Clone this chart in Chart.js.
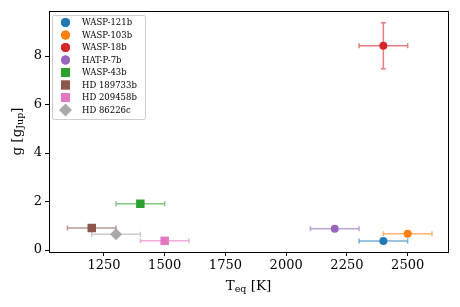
<!DOCTYPE html>
<html>
<head>
<meta charset="utf-8">
<script src="https://cdn.jsdelivr.net/npm/chart.js@4/dist/chart.umd.min.js"></script>
<style>
    html, body { margin: 0; padding: 0; background: #fff; }
    #wrap { width: 460px; height: 307px; }
</style>
</head>
<body>
<div id="wrap"><canvas id="chart" width="460" height="307"></canvas></div>
<script>
const planets = ['WASP-121b', 'WASP-103b', 'WASP-18b', 'HAT-P-7b', 'WASP-43b', 'HD 189733b', 'HD 209458b', 'HD 86226c'];
const teq = [2400, 2500, 2400, 2200, 1400, 1200, 1500, 1300];
const teqErr = [100, 100, 100, 100, 100, 100, 100, 100];
const grav = [0.37, 0.67, 8.43, 0.88, 1.91, 0.91, 0.38, 0.65];
const gravErr = [0, 0, 0.95, 0, 0, 0, 0, 0];
const colors = ['#1f77b4', '#ff7f0e', '#d62728', '#9467bd', '#2ca02c', '#8c564b', '#e377c2', '#a9a9a9'];
const markers = ['circle', 'circle', 'circle', 'circle', 'rect', 'rect', 'rect', 'rectRot'];
const xTicks = [1250, 1500, 1750, 2000, 2250, 2500];
const yTicks = [0, 2, 4, 6, 8];

const serif = '"DejaVu Serif", serif';

function markerRadius(style) {
    if (style === 'circle') return 4;
    return 6;
}

function withAlpha(hex, a) {
    const n = parseInt(hex.slice(1), 16);
    return `rgba(${(n >> 16) & 255}, ${(n >> 8) & 255}, ${n & 255}, ${a})`;
}

const datasets = planets.map((name, i) => ({
    label: name,
    data: [{ x: teq[i], y: grav[i] }],
    backgroundColor: colors[i],
    borderColor: colors[i],
    borderWidth: 0,
    pointStyle: markers[i],
    pointRadius: markerRadius(markers[i]),
    pointHoverRadius: markerRadius(markers[i])
}));

// error bars, drawn under the markers
const errorBars = {
    id: 'errorBars',
    beforeDatasetsDraw(chart) {
        const ctx = chart.ctx;
        const xs = chart.scales.x, ys = chart.scales.y;
        ctx.save();
        ctx.lineWidth = 1.5;
        planets.forEach((_, i) => {
            ctx.strokeStyle = withAlpha(colors[i], 0.6);
            const px = xs.getPixelForValue(teq[i]);
            const py = ys.getPixelForValue(grav[i]);
            const cap = 2.5;
            if (teqErr[i]) {
                const x0 = xs.getPixelForValue(teq[i] - teqErr[i]);
                const x1 = xs.getPixelForValue(teq[i] + teqErr[i]);
                ctx.beginPath();
                ctx.moveTo(x0, py); ctx.lineTo(x1, py);
                ctx.moveTo(x0, py - cap); ctx.lineTo(x0, py + cap);
                ctx.moveTo(x1, py - cap); ctx.lineTo(x1, py + cap);
                ctx.stroke();
            }
            if (gravErr[i]) {
                const y0 = ys.getPixelForValue(grav[i] - gravErr[i]);
                const y1 = ys.getPixelForValue(grav[i] + gravErr[i]);
                ctx.beginPath();
                ctx.moveTo(px, y0); ctx.lineTo(px, y1);
                ctx.moveTo(px - cap, y0); ctx.lineTo(px + cap, y0);
                ctx.moveTo(px - cap, y1); ctx.lineTo(px + cap, y1);
                ctx.stroke();
            }
        });
        ctx.restore();
    }
};

// frame, axis titles with subscripts, legend box
const decorations = {
    id: 'decorations',
    afterDraw(chart) {
        const ctx = chart.ctx;
        const a = chart.chartArea;
        ctx.save();
        ctx.strokeStyle = '#000';
        ctx.lineWidth = 1;
        ctx.strokeRect(Math.round(a.left) + 0.5, Math.round(a.top) + 0.5, Math.round(a.right - a.left), Math.round(a.bottom - a.top));

        ctx.fillStyle = '#000';
        ctx.textBaseline = 'alphabetic';

        // x title: T_eq [K]
        const big = `13.5px ${serif}`, small = `9.5px ${serif}`;
        ctx.font = big;
        const wT = ctx.measureText('T').width;
        const wK = ctx.measureText(' [K]').width;
        ctx.font = small;
        const wEq = ctx.measureText('eq').width;
        let x = (a.left + a.right) / 2 - (wT + wEq + wK) / 2;
        const base = 290;
        ctx.font = big; ctx.fillText('T', x, base); x += wT;
        ctx.font = small; ctx.fillText('eq', x, base + 2); x += wEq;
        ctx.font = big; ctx.fillText(' [K]', x, base);

        // y title: g [g_Jup]
        ctx.save();
        ctx.translate(21, (a.top + a.bottom) / 2);
        ctx.rotate(-Math.PI / 2);
        ctx.font = big;
        const w1 = ctx.measureText('g [g').width;
        const w3 = ctx.measureText(']').width;
        ctx.font = small;
        const w2 = ctx.measureText('Jup').width;
        let y = -(w1 + w2 + w3) / 2;
        ctx.font = big; ctx.fillText('g [g', y, 0); y += w1;
        ctx.font = small; ctx.fillText('Jup', y, 2); y += w2;
        ctx.font = big; ctx.fillText(']', y, 0);
        ctx.restore();

        // legend
        const lx = 52, ly = 15, lw = 93, lh = 104, rowH = 12.5;
        ctx.fillStyle = 'rgba(255,255,255,0.8)';
        ctx.strokeStyle = '#cccccc';
        ctx.lineWidth = 1;
        ctx.beginPath();
        ctx.roundRect(lx + 0.5, ly + 0.5, lw, lh, 2);
        ctx.fill();
        ctx.stroke();
        ctx.font = `8.5px ${serif}`;
        ctx.textBaseline = 'middle';
        planets.forEach((name, i) => {
            const cy = ly + 7.5 + i * rowH;
            ctx.fillStyle = colors[i];
            const r = markers[i] === 'circle' ? 4.5 : 6.3;
            Chart.helpers.drawPoint(ctx, { pointStyle: markers[i], radius: r, borderWidth: 0 }, 65.5, cy);
            ctx.fill();
            ctx.fillStyle = '#000';
            ctx.fillText(name, 82, cy + 0.5);
        });
        ctx.restore();
    }
};

new Chart(document.getElementById('chart'), {
    type: 'scatter',
    data: { datasets },
    options: {
        responsive: false,
        animation: false,
        events: [],
        layout: { padding: { top: 11, right: 12, left: 0, bottom: 0 } },
        plugins: { legend: { display: false }, tooltip: { enabled: false } },
        scales: {
            x: {
                type: 'linear',
                min: 1024,
                max: 2666,
                afterFit: s => { s.height = 55; },
                afterBuildTicks: s => { s.ticks = xTicks.map(v => ({ value: v })); },
                grid: { display: true, drawOnChartArea: false, drawTicks: true, tickLength: 4, color: '#000' },
                border: { display: true, color: '#000', width: 1 },
                ticks: {
                    color: '#000',
                    padding: 2,
                    maxRotation: 0,
                    font: { family: serif, size: 13 },
                    callback: v => String(v)
                }
            },
            y: {
                type: 'linear',
                min: -0.08,
                max: 9.86,
                afterFit: s => { s.width = 49; },
                afterBuildTicks: s => { s.ticks = yTicks.map(v => ({ value: v })); },
                grid: { display: true, drawOnChartArea: false, drawTicks: true, tickLength: 4, color: '#000' },
                border: { display: true, color: '#000', width: 1 },
                ticks: {
                    color: '#000',
                    padding: 3,
                    font: { family: serif, size: 13 },
                    callback: v => String(v)
                }
            }
        }
    },
    plugins: [errorBars, decorations]
});
</script>
</body>
</html>
